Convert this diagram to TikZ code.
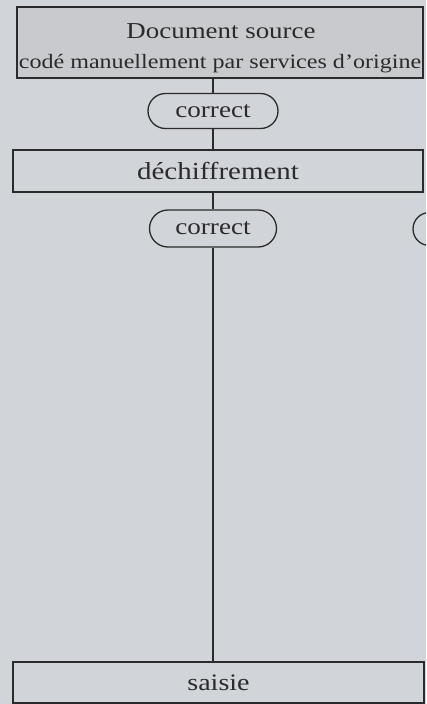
\documentclass[tikz,border=0pt]{standalone}
\usepackage{fontspec}
\setmainfont{Liberation Serif}[FakeStretch=1.18]
\usetikzlibrary{shapes.misc}
\definecolor{paper}{HTML}{D1D4D9}
\definecolor{headfill}{HTML}{C9CACD}
\definecolor{ink}{HTML}{2B2B2B}
\tikzset{
  frame/.style={draw=ink, line width=1.3pt, inner sep=0pt, text=ink},
  stepbox/.style={frame, rectangle},
  pill/.style={frame, rounded rectangle},
  link/.style={draw=ink, line width=1.3pt},
  label/.style={text=ink, inner sep=0pt}
}
\begin{document}
\begin{tikzpicture}[x=1pt, y=-1pt]
  \fill[paper] (0,0) rectangle (426,704);
  \useasboundingbox (0,0) rectangle (426,704);
  \begin{scope}
    \clip (0,0) rectangle (426,704);

    % header box with its two lines of text
    \node[stepbox, fill=headfill, minimum width=406pt, minimum height=71pt] (src) at (220,42.5) {};
    \node[label, anchor=base] (srcA) at (221,38) {\fontsize{22.8}{26}\selectfont Document source};
    \node[label, anchor=base] (srcB) at (220,68) {\fontsize{20.4}{24}\selectfont codé manuellement par services d'origine};

    % checks and processing steps
    \node[pill, minimum width=130pt, minimum height=35pt, font=\fontsize{23}{26}\selectfont] (ok1) at (213,111) {correct};
    \node[stepbox, minimum width=410pt, minimum height=42pt, font=\fontsize{24.5}{28}\selectfont] (dech) at (218,171) {déchiffrement};
    \node[pill, minimum width=127pt, minimum height=37pt, font=\fontsize{23}{26}\selectfont] (ok2) at (213,228.5) {correct};
    \node[pill, minimum width=127pt, minimum height=33pt] (alt) at (476.5,229) {};
    \node[stepbox, minimum width=411pt, minimum height=41pt, font=\fontsize{23.7}{27}\selectfont] (saisie) at (218.5,682.5) {saisie};

    % connectors along the main axis
    \draw[link] (ok1.north |- src.south) -- (ok1.north);
    \draw[link] (ok1.south) -- (ok1.south |- dech.north);
    \draw[link] (ok2.north |- dech.south) -- (ok2.north);
    \draw[link] (ok2.south) -- (ok2.south |- saisie.north);
  \end{scope}
\end{tikzpicture}
\end{document}
